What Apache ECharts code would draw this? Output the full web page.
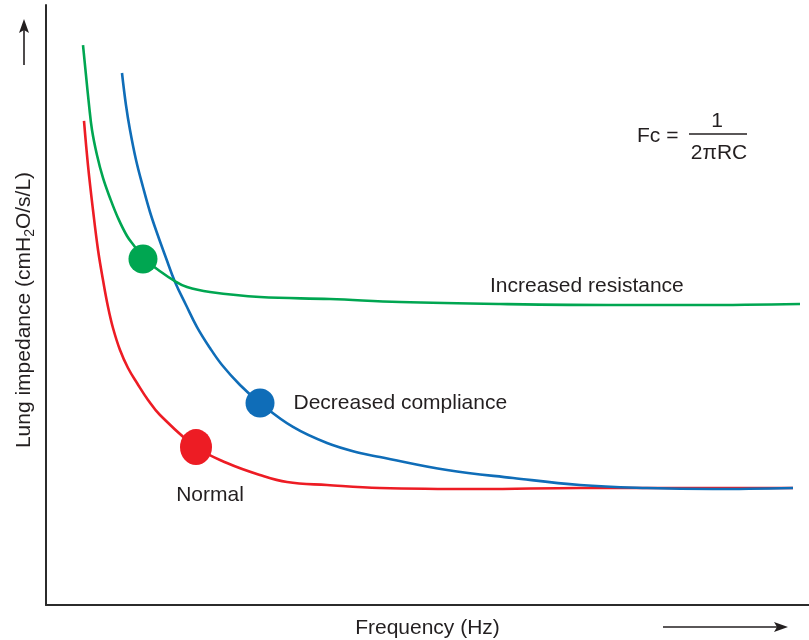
<!DOCTYPE html>
<html><head><meta charset="utf-8">
<script src="https://cdn.jsdelivr.net/npm/echarts@6/dist/echarts.min.js"></script>
<style>html,body{margin:0;padding:0;background:#fff}#c{width:809px;height:640px}</style>
</head><body><div id="c"></div>
<script>
// Frequency (arbitrary units 0-100) and impedance (arbitrary units 0-100)
const normalX = [4.98, 5.50, 6.16, 6.82, 7.47, 8.13, 8.78, 9.70, 10.75, 11.93, 13.37, 14.94, 19.66, 23.72, 28.05, 31.59, 36.83, 43.77, 56.88, 69.99, 97.9];
const normalY = [80.67, 73.33, 65.83, 59.17, 54.17, 49.67, 46.17, 42.5, 39.5, 37.0, 34.17, 31.67, 26.33, 23.67, 21.67, 20.5, 20.0, 19.5, 19.33, 19.5, 19.5];
const complianceX = [9.96, 10.48, 11.01, 11.80, 12.71, 13.63, 14.55, 15.73, 16.91, 18.35, 19.79, 21.49, 23.07, 25.43, 28.05, 32.37, 36.83, 41.15, 43.77, 52.56, 61.21, 69.99, 78.77, 87.42, 97.9];
const complianceY = [88.67, 83.33, 79.17, 74.17, 69.67, 65.5, 62.0, 57.83, 53.83, 50.0, 46.33, 42.83, 40.0, 36.67, 33.67, 29.67, 27.0, 25.33, 24.67, 22.5, 21.17, 20.0, 19.5, 19.33, 19.5];
const resistanceX = [4.85, 5.24, 5.64, 6.03, 6.68, 7.47, 8.39, 9.44, 10.62, 11.66, 12.71, 14.55, 16.64, 18.48, 21.49, 28.05, 37.22, 46.40, 59.50, 75.23, 85.71, 98.82];
const resistanceY = [93.33, 88.33, 83.33, 79.17, 75.0, 71.17, 67.83, 64.5, 61.5, 59.67, 57.67, 56.0, 54.17, 53.0, 52.17, 51.33, 51.0, 50.5, 50.17, 50.0, 50.0, 50.17];
// Cut-off frequency markers [x, y]
const normalMarker = [19.66, 26.33];
const complianceMarker = [28.05, 33.67];
const resistanceMarker = [12.71, 57.67];
const seriesNames = ['Normal', 'Decreased compliance', 'Increased resistance'];

const FONT = "'Liberation Sans', Arial, sans-serif";
const TXT = '#231f20';
const RED = '#ed1c24', BLUE = '#0f6db8', GREEN = '#00a651';
const zip = (xs, ys) => xs.map((x, i) => [x, ys[i]]);

function lineSeries(name, xs, ys, color) {
  return {
    name, type: 'line', data: zip(xs, ys), smooth: 0.4,
    showSymbol: false, symbol: 'none', silent: true,
    lineStyle: { color, width: 2.6 }, z: 2
  };
}
const lbl = { fontFamily: FONT, fontSize: 21, color: TXT };

const chart = echarts.init(document.getElementById('c'), null, { renderer: 'canvas' });
chart.setOption({
  animation: false,
  backgroundColor: '#fff',
  grid: { left: 46, right: 0, top: 5, bottom: 35, outerBoundsMode: 'none', containLabel: false },
  xAxis: {
    type: 'value', min: 0, max: 100,
    name: 'Frequency (Hz)', nameLocation: 'middle', nameGap: 12,
    nameTextStyle: { fontFamily: FONT, fontSize: 21, color: TXT, lineHeight: 22 },
    axisLine: { show: true, lineStyle: { color: '#2b2b2b', width: 2 } },
    axisTick: { show: false }, axisLabel: { show: false }, splitLine: { show: false }
  },
  yAxis: {
    type: 'value', min: 0, max: 100,
    name: '{m|Lung impedance (cmH}{s|2}{m|O/s/L)}', nameLocation: 'middle', nameGap: 9, nameRotate: 90,
    nameTextStyle: {
      fontFamily: FONT, fontSize: 21, color: TXT, padding: [0, 10, 0, 0],
      rich: {
        m: { fontFamily: FONT, fontSize: 21, color: TXT, lineHeight: 26, verticalAlign: 'middle' },
        s: { fontFamily: FONT, fontSize: 14, color: TXT, lineHeight: 14, verticalAlign: 'bottom' }
      }
    },
    axisLine: { show: true, lineStyle: { color: '#2b2b2b', width: 2 } },
    axisTick: { show: false }, axisLabel: { show: false }, splitLine: { show: false }
  },
  series: [
    lineSeries(seriesNames[0], normalX, normalY, RED),
    lineSeries(seriesNames[1], complianceX, complianceY, BLUE),
    lineSeries(seriesNames[2], resistanceX, resistanceY, GREEN),
    {
      type: 'scatter', z: 5, silent: true,
      data: [
        { value: normalMarker, symbolSize: [32, 36], itemStyle: { color: RED, opacity: 1 },
          label: Object.assign({ show: true, formatter: seriesNames[0], position: 'bottom', distance: 20, offset: [14, 0] }, lbl) },
        { value: complianceMarker, symbolSize: 29, itemStyle: { color: BLUE, opacity: 1 },
          label: Object.assign({ show: true, formatter: seriesNames[1], position: 'right', distance: 19 }, lbl) },
        { value: resistanceMarker, symbolSize: 29, itemStyle: { color: GREEN, opacity: 1 } }
      ],
      itemStyle: { opacity: 1 },
      label: lbl
    }
  ],
  graphic: [
    { type: 'text', x: 490, y: 286, style: { text: seriesNames[2], font: '21px ' + FONT, fill: TXT, align: 'left', verticalAlign: 'middle', textAlign: 'left', textVerticalAlign: 'middle' } },
    // formula
    { type: 'text', x: 637, y: 136, style: { text: 'Fc =', font: '21px ' + FONT, fill: TXT, align: 'left', verticalAlign: 'middle', textAlign: 'left', textVerticalAlign: 'middle' } },
    { type: 'text', x: 717, y: 121, style: { text: '1', font: '21px ' + FONT, fill: TXT, align: 'center', verticalAlign: 'middle', textAlign: 'center', textVerticalAlign: 'middle' } },
    { type: 'line', shape: { x1: 689, y1: 134, x2: 747, y2: 134 }, style: { stroke: TXT, lineWidth: 1.5 } },
    { type: 'text', x: 719, y: 153, style: { text: '2\u03C0RC', font: '21px ' + FONT, fill: TXT, align: 'center', verticalAlign: 'middle', textAlign: 'center', textVerticalAlign: 'middle' } },
    // up arrow
    { type: 'line', shape: { x1: 24, y1: 65, x2: 24, y2: 28 }, style: { stroke: TXT, lineWidth: 1.6 } },
    { type: 'polygon', shape: { points: [[24, 19], [29, 33], [24, 30], [19, 33]] }, style: { fill: TXT } },
    // right arrow
    { type: 'line', shape: { x1: 663, y1: 627, x2: 780, y2: 627 }, style: { stroke: TXT, lineWidth: 1.6 } },
    { type: 'polygon', shape: { points: [[788, 627], [774, 622], [777, 627], [774, 632]] }, style: { fill: TXT } }
  ]
});
</script></body></html>
